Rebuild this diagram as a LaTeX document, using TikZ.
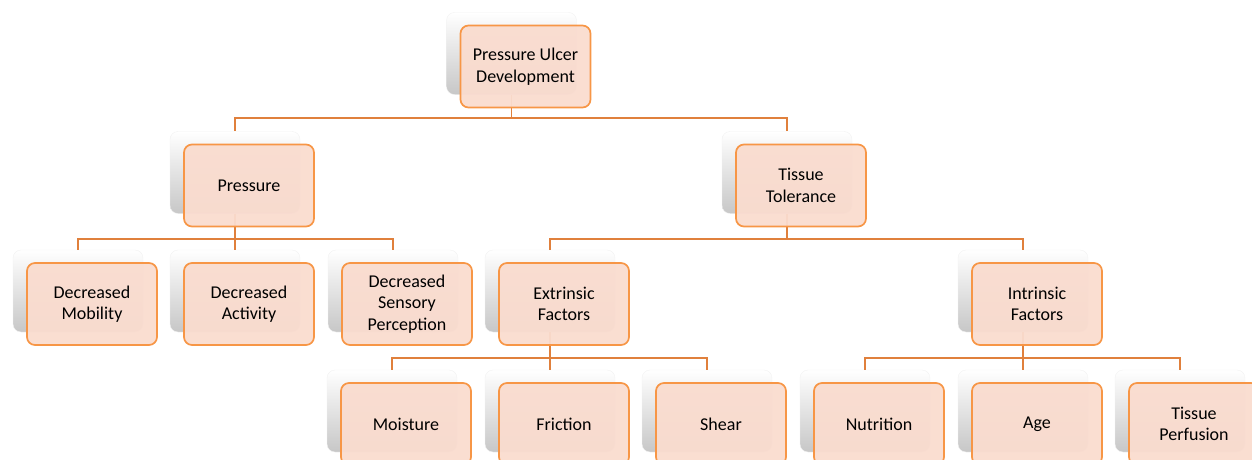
\documentclass[tikz,border=0pt]{standalone}
\usepackage{fontspec}
\setmainfont{Carlito}
\usetikzlibrary{positioning}

\definecolor{cardline}{RGB}{247,150,70}
\definecolor{cardfill}{RGB}{250,220,207}
\definecolor{linkline}{RGB}{224,128,60}

\tikzset{
  backcard/.style={rectangle, rounded corners=8pt, minimum width=130pt, minimum height=82pt,
    draw=black!5, top color=white, bottom color=black!22, inner sep=0pt},
  frontcard/.style={rectangle, rounded corners=8pt, minimum width=130pt, minimum height=82pt,
    draw=cardline, line width=1.7pt, fill=cardfill, fill opacity=0.95, text opacity=1,
    align=center, font=\fontsize{18}{21.5}\selectfont, inner sep=0pt},
  link/.style={draw=linkline, line width=1.6pt}
}

\begin{document}
\begin{tikzpicture}[x=1pt, y=-1pt]
\useasboundingbox (0,0) rectangle (1252,460);

% back cards
\node[backcard] (root) at (511.5,53.5) {};
\node[backcard] (press) at (235,172.5) {};
\node[backcard] (tiss) at (787,172.5) {};
\node[backcard] (mob) at (78,291) {};
\node[backcard] (act) at (235,291) {};
\node[backcard] (sens) at (393,291) {};
\node[backcard] (extr) at (550,291) {};
\node[backcard] (intr) at (1023,291) {};
\node[backcard] (moist) at (392,411) {};
\node[backcard] (fric) at (550,411) {};
\node[backcard] (shear) at (707,411) {};
\node[backcard] (nutr) at (865,411) {};
\node[backcard] (age) at (1023,411) {};
\node[backcard] (perf) at (1180,411) {};

% connectors
\draw[link] (root.south) -- ++(0,23) -| (press.north);
\draw[link] (root.south) -- ++(0,23) -| (tiss.north);
\foreach \kid in {mob, act, sens}
  \draw[link] (press.south) -- ++(0,25) -| (\kid.north);
\foreach \kid in {extr, intr}
  \draw[link] (tiss.south) -- ++(0,25) -| (\kid.north);
\foreach \kid in {moist, fric, shear}
  \draw[link] (extr.south) -- ++(0,26) -| (\kid.north);
\foreach \kid in {nutr, age, perf}
  \draw[link] (intr.south) -- ++(0,26) -| (\kid.north);

% front cards
\node[frontcard] (rootF) at ([shift={(14,13)}]root.center) {Pressure Ulcer\\Development};
\node[frontcard] (pressF) at ([shift={(14,13)}]press.center) {Pressure};
\node[frontcard] (tissF) at ([shift={(14,13)}]tiss.center) {Tissue\\Tolerance};
\node[frontcard] (mobF) at ([shift={(14,13)}]mob.center) {Decreased\\Mobility};
\node[frontcard] (actF) at ([shift={(14,13)}]act.center) {Decreased\\Activity};
\node[frontcard] (sensF) at ([shift={(14,13)}]sens.center) {Decreased\\Sensory\\Perception};
\node[frontcard] (extrF) at ([shift={(14,13)}]extr.center) {Extrinsic\\Factors};
\node[frontcard] (intrF) at ([shift={(14,13)}]intr.center) {Intrinsic\\Factors};
\node[frontcard] (moistF) at ([shift={(14,13)}]moist.center) {Moisture};
\node[frontcard] (fricF) at ([shift={(14,13)}]fric.center) {Friction};
\node[frontcard] (shearF) at ([shift={(14,13)}]shear.center) {Shear};
\node[frontcard] (nutrF) at ([shift={(14,13)}]nutr.center) {Nutrition};
\node[frontcard] (ageF) at ([shift={(14,13)}]age.center) {Age};
\node[frontcard] (perfF) at ([shift={(14,13)}]perf.center) {Tissue\\Perfusion};

\end{tikzpicture}
\end{document}
